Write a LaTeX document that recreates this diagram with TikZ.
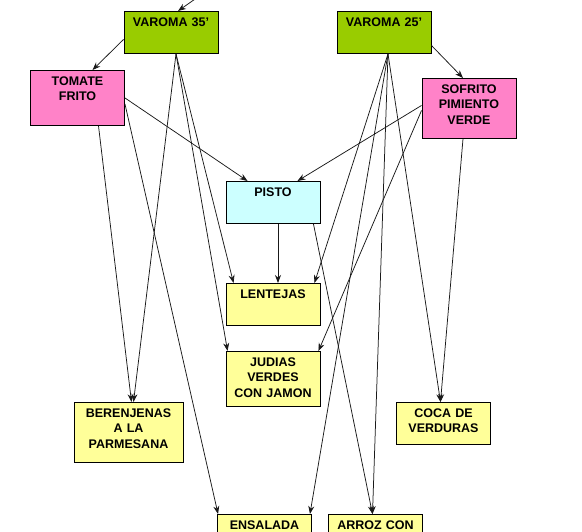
\documentclass[tikz,border=0pt]{standalone}
\usepackage{fontspec}
\setmainfont{Liberation Sans}
\usetikzlibrary{arrows.meta}
\definecolor{verdelima}{RGB}{153,204,0}
\definecolor{rosa}{RGB}{255,130,200}
\definecolor{celeste}{RGB}{204,255,255}
\definecolor{amarillo}{RGB}{255,255,153}

\begin{document}
\begin{tikzpicture}[x=1pt, y=-1pt, >={Stealth[length=8pt, width=6pt]},
    font=\fontsize{12.5pt}{15.5pt}\selectfont\bfseries,
    caja/.style={rectangle, draw=black, line width=0.9pt, anchor=north, align=center,
                 text width=90pt, inner xsep=2pt, inner ysep=6.5pt,
                 text height=8.5pt, text depth=20.5pt},
    varoma/.style={caja, fill=verdelima},
    salsa/.style={caja, fill=rosa},
    base/.style={caja, fill=celeste},
    plato/.style={caja, fill=amarillo},
    flecha/.style={->, line width=0.75pt, draw=black!90}]

    \useasboundingbox (0,0) rectangle (582,532);

    % ---------------- cajas ----------------
    \node (v35)   [varoma] at (171,11)   {VAROMA 35'};
    \node (v25)   [varoma] at (384,11)   {VAROMA 25'};
    \node (tom)   [salsa, text depth=33.5pt] at (77.5,70)  {TOMATE\\ FRITO};
    \node (sof)   [salsa, text depth=38.5pt] at (469,78)   {SOFRITO\\ PIMIENTO\\ VERDE};
    \node (pisto) [base]  at (273,181)   {PISTO};
    \node (lent)  [plato] at (273,283)   {LENTEJAS};
    \node (jud)   [plato, text depth=33.5pt] at (273,351)  {JUDIAS\\ VERDES\\ CON JAMON};
    \node (ber)   [plato, text width=105pt, text depth=38.5pt] at (128.5,402) {BERENJENAS\\ A LA\\ PARMESANA};
    \node (coca)  [plato] at (443.5,402) {COCA DE\\ VERDURAS};
    \node (ens)   [plato] at (264.5,514) {ENSALADA};
    \node (arroz) [plato] at (375.5,514) {ARROZ CON};

    % ---------------- flechas ----------------
    \coordinate (arriba) at (198,-3);
    \draw [flecha] (arriba) -- ([xshift=7pt]v35.north);
    \draw [flecha] ([yshift=-7pt]v35.west) -- ([xshift=15pt]tom.north);
    \draw [flecha] ([xshift=5pt]v35.south) -- ([xshift=5pt]ber.north);
    \draw [flecha] ([xshift=5pt]v35.south) -- ([xshift=8pt]lent.north west);
    \draw [flecha] ([xshift=5pt]v35.south) -- ([xshift=2pt]jud.north west);
    \draw [flecha] (tom.east) -- ([xshift=22pt]pisto.north west);
    \draw [flecha] ([yshift=-6pt]tom.east) -- ([xshift=1pt]ens.north west);
    \draw [flecha] ([xshift=21pt]tom.south) -- ([xshift=3pt]ber.north);
    \draw [flecha] ([yshift=-13pt]v25.east) -- ([xshift=-6pt]sof.north);
    \draw [flecha] ([xshift=4pt]v25.south) -- ([xshift=-6pt]lent.north east);
    \draw [flecha] ([xshift=4pt]v25.south) -- ([xshift=-2pt]ens.north east);
    \draw [flecha] ([xshift=4pt]v25.south) -- ([xshift=-3pt]arroz.north);
    \draw [flecha] ([xshift=4pt]v25.south) -- ([xshift=-3pt]coca.north);
    \draw [flecha] ([yshift=3pt]sof.west) -- ([xshift=-23pt]pisto.north east);
    \draw [flecha] ([yshift=-2pt]sof.west) -- ([xshift=-2pt]jud.north east);
    \draw [flecha] ([xshift=-6pt]sof.south) -- ([xshift=-3pt]coca.north);
    \draw [flecha] ([xshift=5pt]pisto.south) -- ([xshift=5pt]lent.north);
    \draw [flecha] ([xshift=-7pt]pisto.south east) -- ([xshift=-3pt]arroz.north);
\end{tikzpicture}
\end{document}
